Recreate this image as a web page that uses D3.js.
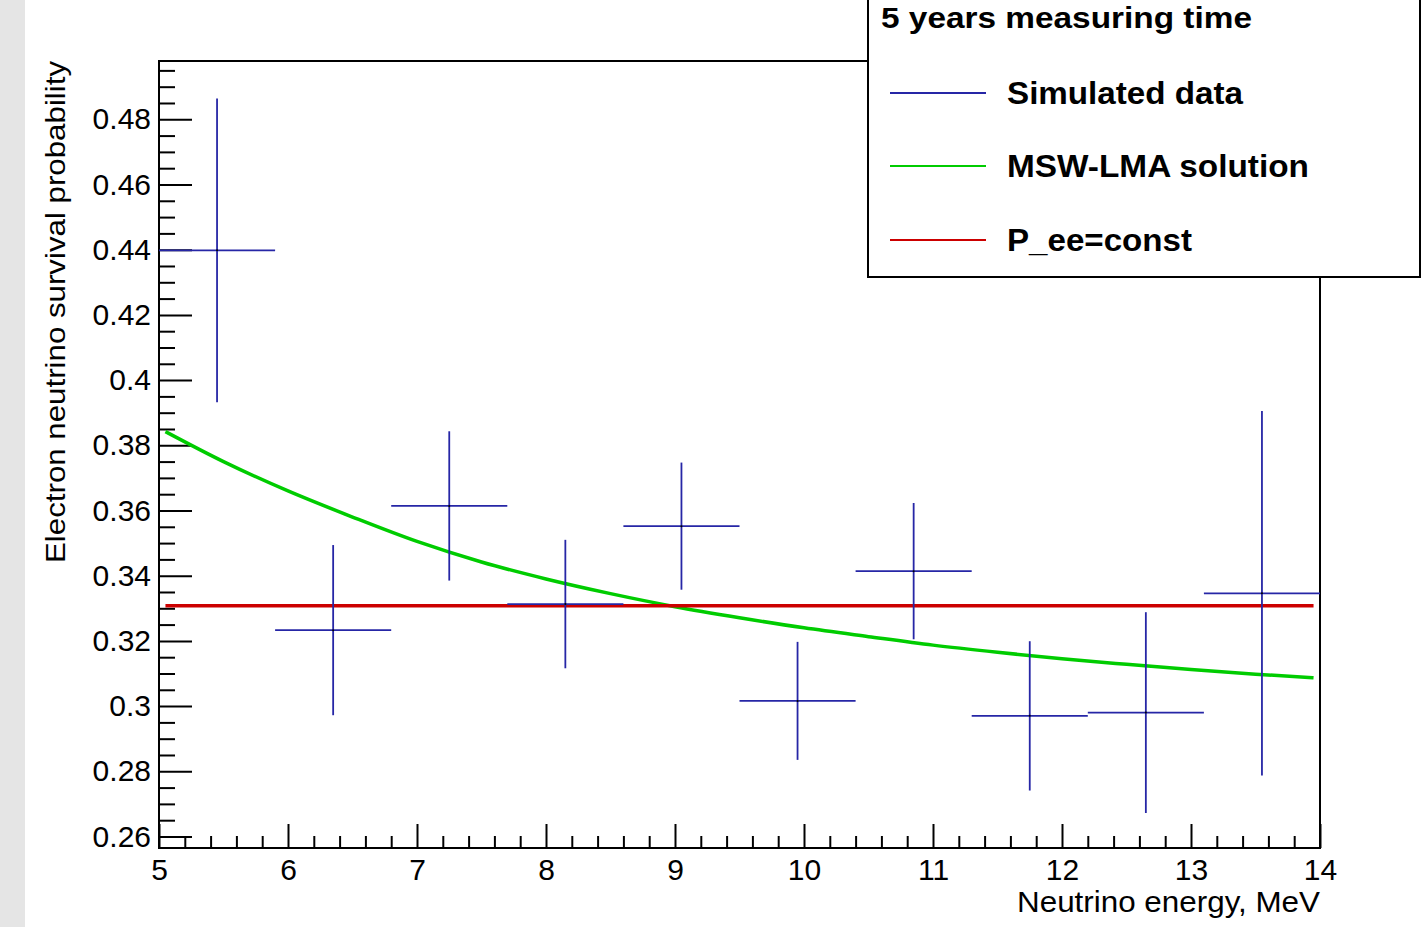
<!DOCTYPE html>
<html>
<head>
<meta charset="utf-8">
<script src="https://cdn.jsdelivr.net/npm/d3@7"></script>
<style>
  html, body { margin: 0; padding: 0; background: #fff; }
  svg { display: block; }
  text { font-family: "Liberation Sans", Arial, Helvetica, sans-serif; }
</style>
</head>
<body>
<script>
// Bin centres (MeV), measured survival probabilities and their errors
const binCenters = [5.45, 6.35, 7.25, 8.15, 9.05, 9.95, 10.85, 11.75, 12.65, 13.55];
const binHalfWidth = 0.45;
const simulated = [0.4398, 0.3233, 0.3614, 0.3313, 0.3552, 0.3016, 0.3414, 0.2970, 0.2980, 0.3346];
const simErrors = [0.0466, 0.0261, 0.0229, 0.0197, 0.0195, 0.0181, 0.0209, 0.0229, 0.0308, 0.0559];

// MSW-LMA expectation sampled along the energy axis
const mswEnergy = [5.05, 5.5, 6.0, 6.5, 7.0, 7.5, 8.0, 8.5, 9.0, 9.5, 10.0, 10.5, 11.0, 11.5, 12.0, 12.5, 13.0, 13.5, 13.95];
const mswProb   = [0.3842, 0.3750, 0.3660, 0.3580, 0.3505, 0.3442, 0.3390, 0.3345, 0.3305, 0.3271, 0.3240, 0.3213, 0.3187, 0.3165, 0.3145, 0.3128, 0.3112, 0.3098, 0.3087];

// Constant survival probability hypothesis
const constRange = [5.05, 13.95];
const constProb = 0.3308;

// Axis tick values
const xMajorTicks = [5, 6, 7, 8, 9, 10, 11, 12, 13, 14];
const yMajorTicks = [0.26, 0.28, 0.30, 0.32, 0.34, 0.36, 0.38, 0.40, 0.42, 0.44, 0.46, 0.48];

const legendTitle = "5 years measuring time";
const legendLabels = ["Simulated data", "MSW-LMA solution", "P_ee=const"];

const W = 1422, H = 927;
const frame = { left: 159, right: 1320, top: 61, bottom: 848 };
const blue = "#2626a6", green = "#00cc00", red = "#cc0000";

const svg = d3.select("body").append("svg").attr("width", W).attr("height", H);

// grey canvas margin on the left edge
svg.append("rect").attr("x", 0).attr("y", 0).attr("width", 25).attr("height", H).attr("fill", "#e5e5e5");

const x = d3.scaleLinear().domain([5, 14]).range([frame.left, frame.right]);
const y = d3.scaleLinear().domain([0.25647, 0.49788]).range([frame.bottom, frame.top]);

// frame
svg.append("rect")
  .attr("x", frame.left).attr("y", frame.top)
  .attr("width", frame.right - frame.left).attr("height", frame.bottom - frame.top)
  .attr("fill", "none").attr("stroke", "#000").attr("stroke-width", 2);

// x axis: minor ticks then major ticks with labels
const xMinor = d3.range(5, 14.0001, 0.2).filter(v => Math.abs(v - Math.round(v)) > 1e-6);
svg.append("g").attr("transform", `translate(0,${frame.bottom})`)
  .call(d3.axisBottom(x).tickValues(xMinor).tickSizeInner(-12).tickSizeOuter(0).tickFormat(""))
  .call(g => g.select(".domain").remove())
  .call(g => g.selectAll("line").attr("stroke", "#000").attr("stroke-width", 2));
svg.append("g").attr("transform", `translate(0,${frame.bottom})`)
  .call(d3.axisBottom(x).tickValues(xMajorTicks).tickSizeInner(-24).tickSizeOuter(0).tickPadding(11).tickFormat(d3.format("d")))
  .call(g => g.select(".domain").remove())
  .call(g => g.selectAll("line").attr("stroke", "#000").attr("stroke-width", 2))
  .call(g => g.selectAll("text").attr("font-size", 30).attr("fill", "#000").attr("dy", "0.71em"));

// y axis: minor ticks then major ticks with labels
const yMinor = d3.range(0.26, 0.4976, 0.005).filter(v => Math.abs(v * 50 - Math.round(v * 50)) > 1e-6);
svg.append("g").attr("transform", `translate(${frame.left},0)`)
  .call(d3.axisLeft(y).tickValues(yMinor).tickSizeInner(-16).tickSizeOuter(0).tickFormat(""))
  .call(g => g.select(".domain").remove())
  .call(g => g.selectAll("line").attr("stroke", "#000").attr("stroke-width", 2));
svg.append("g").attr("transform", `translate(${frame.left},0)`)
  .call(d3.axisLeft(y).tickValues(yMajorTicks).tickSizeInner(-33).tickSizeOuter(0).tickPadding(8).tickFormat(d3.format("~g")))
  .call(g => g.select(".domain").remove())
  .call(g => g.selectAll("line").attr("stroke", "#000").attr("stroke-width", 2))
  .call(g => g.selectAll("text").attr("font-size", 30).attr("fill", "#000"));

// axis titles
svg.append("text")
  .attr("x", frame.right).attr("y", 912)
  .attr("text-anchor", "end").attr("font-size", 29).attr("fill", "#000")
  .attr("textLength", 303).attr("lengthAdjust", "spacingAndGlyphs")
  .text("Neutrino energy, MeV");
svg.append("text")
  .attr("transform", `translate(65,${frame.top}) rotate(-90)`)
  .attr("text-anchor", "end").attr("font-size", 28).attr("fill", "#000")
  .attr("textLength", 502).attr("lengthAdjust", "spacingAndGlyphs")
  .text("Electron neutrino survival probability");

// MSW-LMA curve
const mswPts = mswEnergy.map((e, i) => [e, mswProb[i]]);
svg.append("path")
  .datum(mswPts)
  .attr("fill", "none").attr("stroke", green).attr("stroke-width", 3.5)
  .attr("d", d3.line().x(d => x(d[0])).y(d => y(d[1])).curve(d3.curveMonotoneX));

// constant hypothesis
svg.append("line")
  .attr("x1", x(constRange[0])).attr("x2", x(constRange[1]))
  .attr("y1", y(constProb)).attr("y2", y(constProb))
  .attr("stroke", red).attr("stroke-width", 3.5);

// simulated data with error bars
const pts = svg.append("g").selectAll("g").data(binCenters.map((c, i) => ({ c, v: simulated[i], e: simErrors[i] })))
  .join("g");
pts.append("line")
  .attr("x1", d => x(d.c - binHalfWidth)).attr("x2", d => x(d.c + binHalfWidth))
  .attr("y1", d => y(d.v)).attr("y2", d => y(d.v))
  .attr("stroke", blue).attr("stroke-width", 1.8);
pts.append("line")
  .attr("x1", d => x(d.c)).attr("x2", d => x(d.c))
  .attr("y1", d => y(d.v + d.e)).attr("y2", d => y(d.v - d.e))
  .attr("stroke", blue).attr("stroke-width", 1.8);
pts.append("circle")
  .attr("cx", d => x(d.c)).attr("cy", d => y(d.v)).attr("r", 1)
  .attr("fill", "#000");

// legend
const lg = svg.append("g");
lg.append("rect")
  .attr("x", 868).attr("y", -3).attr("width", 552).attr("height", 280)
  .attr("fill", "#fff").attr("stroke", "#000").attr("stroke-width", 2);
lg.append("text")
  .attr("x", 881).attr("y", 28)
  .attr("font-size", 30).attr("font-weight", "bold").attr("fill", "#000")
  .attr("textLength", 371).attr("lengthAdjust", "spacingAndGlyphs")
  .text(legendTitle);
const legendColors = [blue, green, red];
const legendY = [93, 166, 240];
const legendWidths = [236, 302, 185];
legendLabels.forEach((lab, i) => {
  lg.append("line")
    .attr("x1", 890).attr("x2", 986)
    .attr("y1", legendY[i]).attr("y2", legendY[i])
    .attr("stroke", legendColors[i]).attr("stroke-width", 2);
  lg.append("text")
    .attr("x", 1007).attr("y", legendY[i] + 11)
    .attr("font-size", 31).attr("font-weight", "bold").attr("fill", "#000")
    .attr("textLength", legendWidths[i]).attr("lengthAdjust", "spacingAndGlyphs")
    .text(lab);
});
</script>
</body>
</html>
